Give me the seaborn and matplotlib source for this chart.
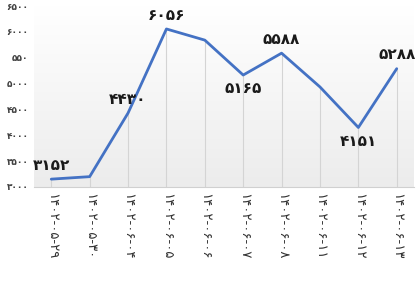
import numpy as np
import pandas as pd
import matplotlib
matplotlib.use("Agg")
import matplotlib.pyplot as plt
import seaborn as sns

sns.set_theme(style="white")
plt.rcParams['font.family'] = ['DejaVu Sans']

# data
dates = ["۱۴۰۲-۰۵-۲۹", "۱۴۰۲-۰۵-۳۰", "۱۴۰۲-۰۶-۰۴", "۱۴۰۲-۰۶-۰۵", "۱۴۰۲-۰۶-۰۶",
         "۱۴۰۲-۰۶-۰۷", "۱۴۰۲-۰۶-۰۸", "۱۴۰۲-۰۶-۱۱", "۱۴۰۲-۰۶-۱۲", "۱۴۰۲-۰۶-۱۳"]
values = [3152, 3200, 4430, 6056, 5840, 5165, 5588, 4935, 4151, 5288]
# which points get a value label, and where (+1 above, -1 below)
label_pos = [1, 0, 1, 1, 0, -1, 1, 0, -1, 1]
label_text = ["۳۱۵۲", "", "۴۴۳۰", "۶۰۵۶", "", "۵۱۶۵", "۵۵۸۸", "", "۴۱۵۱", "۵۲۸۸"]
yticks = [3000, 3500, 4000, 4500, 5000, 5500, 6000, 6500]
ytick_labels = ["۳۰۰۰", "۳۵۰۰", "۴۰۰۰", "۴۵۰۰", "۵۰۰۰", "۵۵۰", "۶۰۰۰", "۶۵۰۰"]

df = pd.DataFrame({"x": range(len(dates)), "value": values})

LINE = "#4472C4"

fig = plt.figure(figsize=(4.17, 2.85), dpi=100)
ax = fig.add_axes([34 / 417, 1 - 187 / 285, 380 / 417, 181 / 285])

# soft vertical gradient behind the plot
grad = np.linspace(0, 1, 256).reshape(-1, 1)
cmap = matplotlib.colors.LinearSegmentedColormap.from_list("bg", ["#ececec", "#ffffff"])
ax.imshow(grad, aspect="auto", cmap=cmap, origin="lower",
          extent=[-0.45, 9.45, 3000, 6500], zorder=0)

# drop lines from each point to the axis
ax.vlines(df["x"], 3000, df["value"], color="#d4d4d4", lw=0.8, zorder=1)

sns.lineplot(data=df, x="x", y="value", color=LINE, lw=2, ax=ax, zorder=3)

for x, v, p, t in zip(df["x"], values, label_pos, label_text):
    if p == 0:
        continue
    ax.annotate(t, (x, v), xytext=(0, 10 * p), textcoords="offset points",
                ha="center", va="center",
                fontsize=11, fontweight="bold", color="#1a1a1a", zorder=4)

ax.set_xlim(-0.45, 9.45)
ax.set_ylim(3000, 6500)
ax.set_xticks(df["x"])
ax.set_xticklabels(dates, rotation=-90, fontsize=9.5, color="#333333")
ax.set_yticks(yticks)
ax.set_yticklabels(ytick_labels, fontsize=6.5, color="#404040", fontweight="bold")
ax.tick_params(axis="both", length=0, pad=4)
ax.set_xlabel("")
ax.set_ylabel("")
for s in ["top", "right", "left"]:
    ax.spines[s].set_visible(False)
ax.spines["bottom"].set_color("#d0d0d0")
ax.spines["bottom"].set_linewidth(0.8)

fig.savefig("out.png", dpi=100)
